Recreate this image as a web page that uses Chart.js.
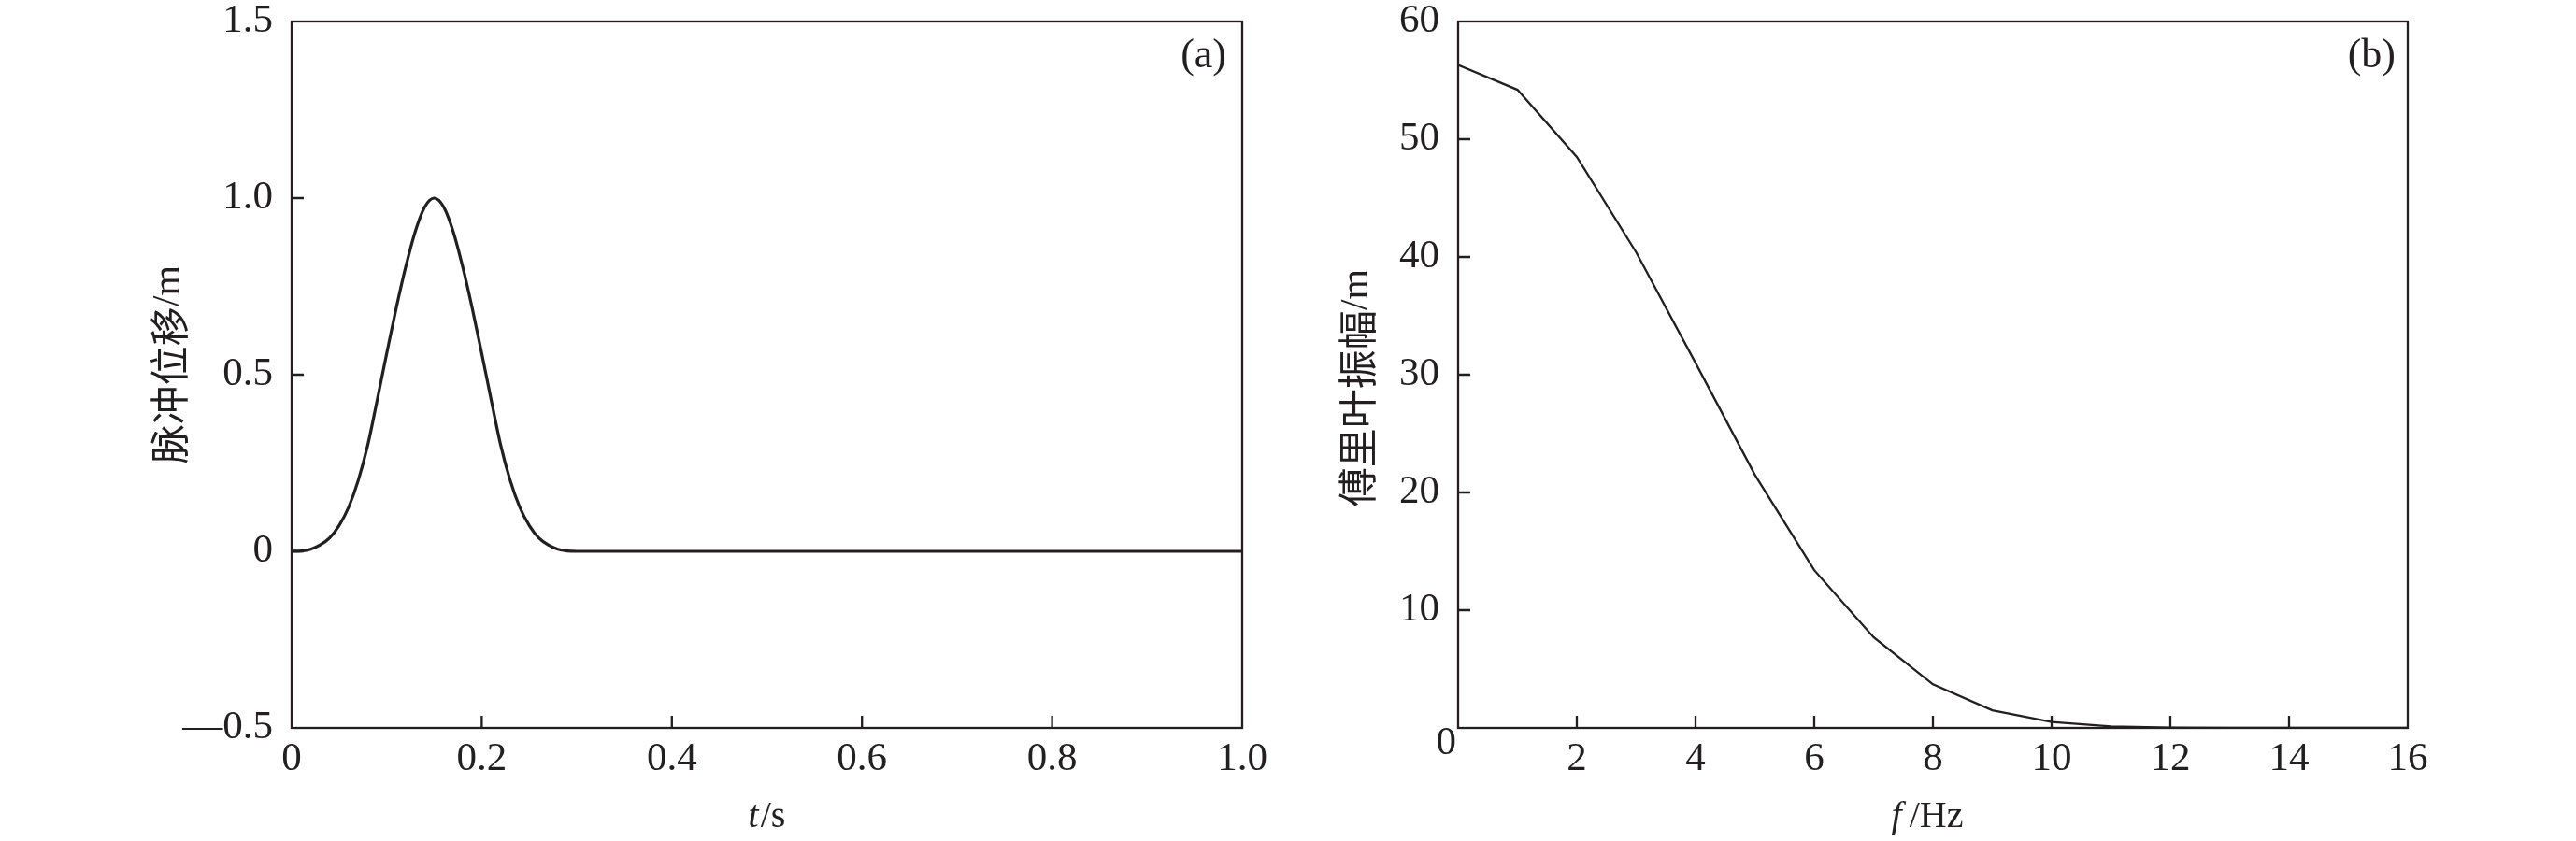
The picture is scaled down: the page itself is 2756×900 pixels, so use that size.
<!DOCTYPE html>
<html>
<head>
<meta charset="utf-8">
<script src="https://cdn.jsdelivr.net/npm/chart.js@4.4.1/dist/chart.umd.min.js"></script>
<style>
  html,body{margin:0;padding:0;background:#fff;}
  #wrap{position:relative;width:2756px;height:900px;}
  canvas{position:absolute;top:0;}
  #pulseChart{left:0;}
  #ampChart{left:1378px;}
</style>
</head>
<body>
<div id="wrap">
  <canvas id="pulseChart" width="1378" height="900"></canvas>
  <canvas id="ampChart" width="1378" height="900"></canvas>
</div>
<script>
// (a) pulse displacement
const pulseT = [0,0.01,0.02,0.03,0.04,0.05,0.06,0.07,0.08,0.09,0.10,0.11,0.12,0.13,0.14,0.15,
  0.16,0.17,0.18,0.19,0.20,0.21,0.22,0.23,0.24,0.25,0.26,0.27,0.28,0.29,0.30,1.0];
const pulseU = [0,0.001,0.006,0.018,0.038,0.073,0.125,0.200,0.300,0.428,0.560,0.688,0.805,0.905,0.975,1.000,
  0.975,0.905,0.805,0.688,0.560,0.428,0.300,0.200,0.125,0.073,0.038,0.018,0.006,0.001,0,0];

// (b) Fourier amplitude
const freqF = [0,1,2,3,4,5,6,7,8,9,10,11,12,13,14,15,16];
const fourierAmp = [56.3,54.2,48.5,40.4,31.0,21.5,13.4,7.7,3.7,1.5,0.5,0.13,0.03,0.01,0,0,0];

// ticks
const tTicks = [0,0.2,0.4,0.6,0.8,1.0];
const tLabels = ['0','0.2','0.4','0.6','0.8','1.0'];
const uTicks = [-0.5,0,0.5,1.0,1.5];
const uLabels = ['\u20140.5','0','0.5','1.0','1.5'];
const fTicks = [0,2,4,6,8,10,12,14,16];
const fLabels = ['','2','4','6','8','10','12','14','16'];
const aTicks = [0,10,20,30,40,50,60];
const aLabels = ['0','10','20','30','40','50','60'];

const ink = '#231f20';
const serif = '"Liberation Serif", "Times New Roman", serif';
const cjk = '"Noto Sans CJK SC", sans-serif';

function drawRuns(ctx, runs, cx, cy){
  let w = 0;
  runs.forEach(r => { ctx.font = r.font; w += ctx.measureText(r.text).width + (r.gap||0); });
  let x = cx - w/2;
  runs.forEach(r => { ctx.font = r.font; ctx.fillText(r.text, x, cy); x += ctx.measureText(r.text).width + (r.gap||0); });
}

const framePlugin = {
  id: 'frame',
  afterDatasetsDraw(chart, args, o){
    const {ctx, chartArea:a, scales:{x,y}} = chart;
    ctx.save();
    ctx.strokeStyle = ink; ctx.lineWidth = 2.3; ctx.lineCap = 'butt';
    ctx.strokeRect(a.left, a.top, a.width, a.height);
    ctx.beginPath();
    o.xMarks.forEach(v => { const px = x.getPixelForValue(v); ctx.moveTo(px, a.bottom); ctx.lineTo(px, a.bottom-13); });
    o.yMarks.forEach(v => { const py = y.getPixelForValue(v); ctx.moveTo(a.left, py); ctx.lineTo(a.left+13, py); });
    ctx.stroke();

    ctx.fillStyle = ink;
    ctx.textAlign = 'right'; ctx.textBaseline = 'middle';
    ctx.font = '44px ' + serif;
    ctx.fillText(o.panel, a.right - o.panelInset, a.top + 37);
    if (o.cornerZero) {
      ctx.font = '43px ' + serif;
      ctx.fillText(o.cornerZero, a.left - 2, a.bottom + 17);
    }

    ctx.textAlign = 'left'; ctx.textBaseline = 'alphabetic';
    drawRuns(ctx, o.xTitle, (a.left+a.right)/2 + o.xShift, a.bottom + 106);

    ctx.translate(a.left - o.yGap, (a.top+a.bottom)/2 + o.yShift);
    ctx.rotate(-Math.PI/2);
    ctx.textBaseline = 'middle';
    drawRuns(ctx, o.yTitle, 0, 0);
    ctx.restore();
  }
};

function axis(ticks, labels, min, max, size, horizontal, pad){
  return {
    type:'linear', min, max,
    grid:{display:false, drawTicks:false},
    border:{display:false},
    afterBuildTicks: s => { s.ticks = ticks.map(v => ({value:v})); },
    afterFit: s => {
      if (horizontal) s.height = size; else s.width = size;
      s.paddingTop = 0; s.paddingBottom = 0; s.paddingLeft = 0; s.paddingRight = 0;
    },
    ticks:{
      color:ink, autoSkip:false, maxRotation:0, minRotation:0, padding:pad,
      font:{family:serif, size:43, lineHeight:1.0},
      callback:(v) => { const i = ticks.indexOf(v); return i < 0 ? '' : labels[i]; }
    }
  };
}

new Chart(document.getElementById('pulseChart'), {
  type:'line',
  data:{datasets:[{
    data: pulseT.map((t,i) => ({x:t, y:pulseU[i]})),
    borderColor:ink, borderWidth:3.2, pointRadius:0, cubicInterpolationMode:'monotone', fill:false
  }]},
  options:{
    responsive:false, animation:false, devicePixelRatio:1,
    layout:{padding:{top:23, right:49, left:0, bottom:0}},
    plugins:{legend:{display:false}, tooltip:{enabled:false},
      frame:{
        xMarks:[0.2,0.4,0.6,0.8], yMarks:[0,0.5,1.0],
        panel:'(a)', panelInset:17,
        xTitle:[{text:'t', font:'italic 40px '+serif, gap:2},{text:'/s', font:'40px '+serif}], xShift:0,
        yTitle:[{text:'脉冲位移', font:'42px '+cjk},{text:'/m', font:'42px '+serif}], yGap:131, yShift:-11
      }},
    scales:{
      x: axis(tTicks, tLabels, 0, 1, 121, true, 12),
      y: axis(uTicks, uLabels, -0.5, 1.5, 312, false, 20)
    }
  },
  plugins:[framePlugin]
});

new Chart(document.getElementById('ampChart'), {
  type:'line',
  data:{datasets:[{
    data: freqF.map((f,i) => ({x:f, y:fourierAmp[i]})),
    borderColor:ink, borderWidth:2.3, pointRadius:0, tension:0, fill:false
  }]},
  options:{
    responsive:false, animation:false, devicePixelRatio:1,
    layout:{padding:{top:23, right:180, left:0, bottom:0}},
    plugins:{legend:{display:false}, tooltip:{enabled:false},
      frame:{
        xMarks:[2,4,6,8,10,12,14], yMarks:[10,20,30,40,50],
        panel:'(b)', panelInset:13, cornerZero:aLabels[0],
        xTitle:[{text:'f', font:'italic 40px '+serif, gap:8},{text:'/Hz', font:'40px '+serif}], xShift:-6,
        yTitle:[{text:'傅里叶振幅', font:'42px '+cjk},{text:'/m', font:'42px '+serif}], yGap:108, yShift:14
      }},
    scales:{
      x: axis(fTicks, fLabels, 0, 16, 121, true, 12),
      y: axis(aTicks, ['', ...aLabels.slice(1)], 0, 60, 182, false, 20)
    }
  },
  plugins:[framePlugin]
});
</script>
</body>
</html>
